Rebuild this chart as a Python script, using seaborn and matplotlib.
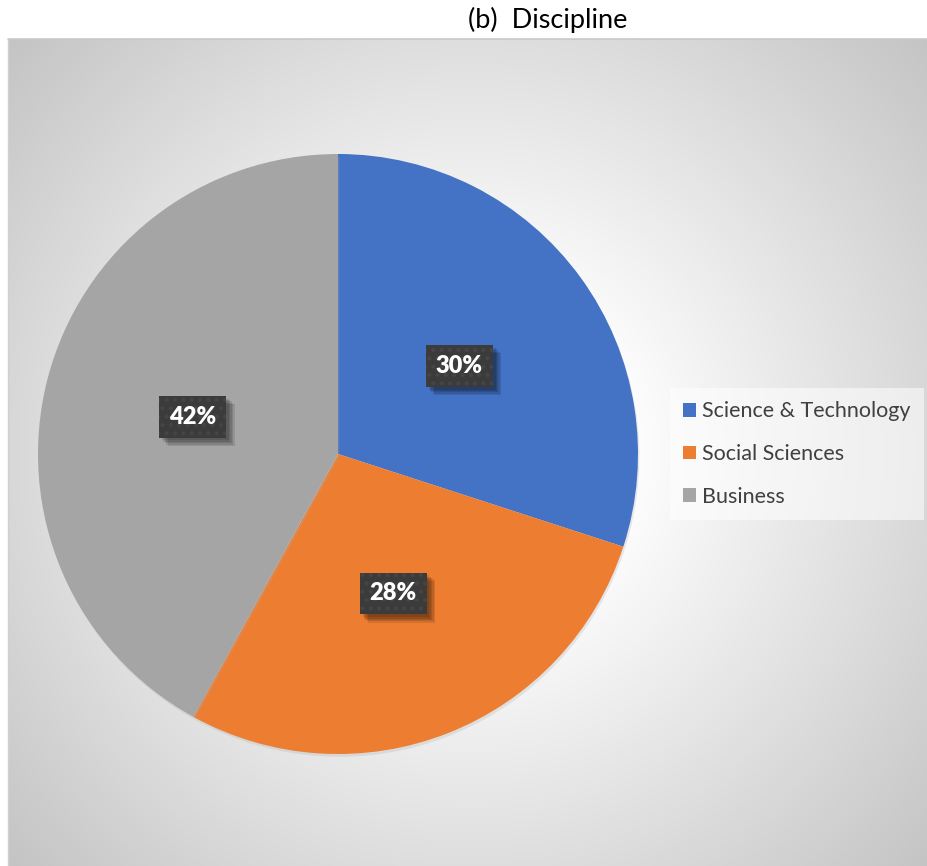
import numpy as np
import matplotlib
matplotlib.use("Agg")
import matplotlib.pyplot as plt
import matplotlib.patheffects as pe
import seaborn as sns

categories = ["Science & Technology", "Social Sciences", "Business"]
shares = [30, 28, 42]
labels = ["30%", "28%", "42%"]
colors = ["#4472C4", "#ED7D31", "#A5A5A5"]

sns.set_theme(style="white")
plt.rcParams["font.family"] = ["Lato", "DejaVu Sans"]
plt.rcParams["hatch.linewidth"] = 1.8

W, H = 928, 866
fig = plt.figure(figsize=(W / 100, H / 100), dpi=100)
fig.patch.set_facecolor("white")

# plot-area background with a soft radial gradient
px0, py_top = 8, 39
bg = fig.add_axes([px0 / W, 0, (W - px0) / W, (H - py_top) / H])
xs = np.arange(px0, W)
ys = np.arange(py_top, H)
gx, gy = np.meshgrid(xs, ys)
d = np.hypot(gx - 470, gy - 452)
v = 255 - 63 * np.clip((d - 150) / 500, 0, 1.1)
v = np.clip(v, 180, 255) / 255.0
bg.imshow(np.dstack([v, v, v]), aspect="auto", extent=(0, 1, 0, 1), origin="upper")
bg.set_axis_off()
fig.add_artist(plt.Line2D([px0 / W, 1], [1 - py_top / H] * 2, color="#c8c8c8", lw=1.2))
fig.add_artist(plt.Line2D([px0 / W] * 2, [0, 1 - py_top / H], color="#d0d0d0", lw=1.0))

# pie axes: center (338, 454), radius 300 px
cx, cy, r = 338, 454, 300
ax = fig.add_axes([(cx - r) / W, (H - cy - r) / H, 2 * r / W, 2 * r / H])
ax.set_facecolor("none")
wedges, _ = ax.pie(shares, colors=colors, startangle=90, counterclock=False,
                   radius=1.0, wedgeprops=dict(linewidth=0))
for w in wedges:
    w.set_path_effects([pe.SimplePatchShadow(offset=(1, -2), shadow_rgbFace="#aaaaaa", alpha=0.25),
                        pe.Normal()])
ax.set_xlim(-1, 1)
ax.set_ylim(-1, 1)
ax.set_axis_off()

# data labels: a plain box carrying a soft drop shadow, then the dotted box on top
soft_shadow = [pe.SimplePatchShadow(offset=(k, -k), shadow_rgbFace="#000000", alpha=0.11)
               for k in (6, 5, 4, 3, 2)] + [pe.Normal()]
start = 90.0
for w, s, lab in zip(wedges, shares, labels):
    mid = np.deg2rad(start - s * 3.6 / 2)
    start -= s * 3.6
    x, y = 0.5 * np.cos(mid), 0.5 * np.sin(mid)
    base = ax.text(x, y, lab, ha="center", va="center", fontsize=17,
                   fontweight="heavy", color="#3b3b3b", zorder=5,
                   bbox=dict(boxstyle="square,pad=0.42", facecolor="#3b3b3b",
                             edgecolor="none", linewidth=0))
    base.get_bbox_patch().set_path_effects(soft_shadow)
    ax.text(x, y, lab, ha="center", va="center", fontsize=17,
            fontweight="heavy", color="white", zorder=6,
            bbox=dict(boxstyle="square,pad=0.42", facecolor="#3b3b3b",
                      edgecolor="#454545", linewidth=0, hatch=".."))

# legend
handles = [plt.Rectangle((0, 0), 1, 1, facecolor=c, edgecolor="none") for c in colors]
leg = fig.legend(handles, categories, loc="center left",
                 bbox_to_anchor=(670 / W, 1 - 454 / H), frameon=True,
                 fontsize=15.5, labelspacing=1.05, handlelength=0.6, handleheight=0.6,
                 handletextpad=0.3, borderpad=0.6, borderaxespad=0)
leg.get_frame().set_facecolor("white")
leg.get_frame().set_alpha(0.55)
leg.get_frame().set_edgecolor("none")
leg.get_frame().set_boxstyle("square", pad=0)
for txt in leg.get_texts():
    txt.set_color("#404040")

fig.text(548 / W, 1 - 20 / H, "(b)  Discipline", ha="center", va="center",
         fontsize=19.5, color="black")

fig.savefig("out.png", dpi=100)
